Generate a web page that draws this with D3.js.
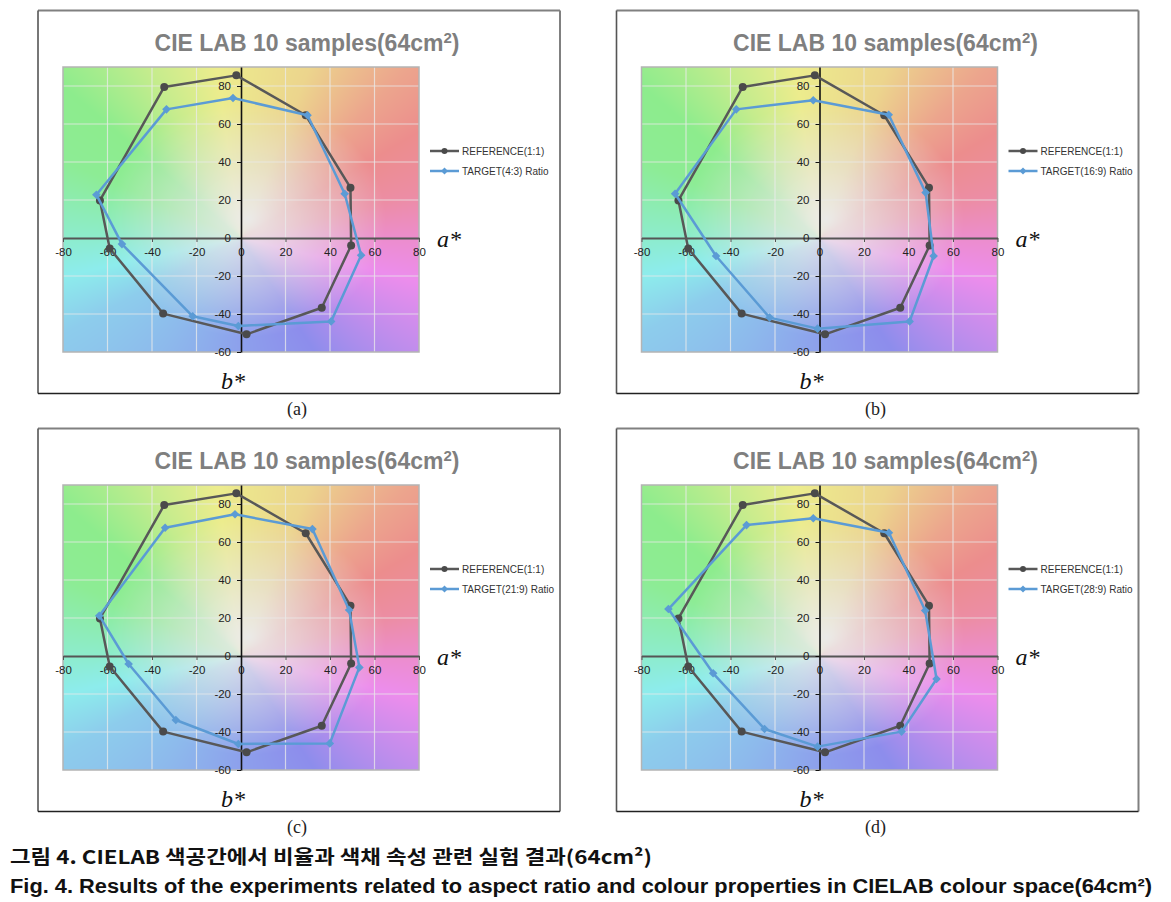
<!DOCTYPE html>
<html>
<head>
<meta charset="utf-8">
<script src="https://cdn.jsdelivr.net/npm/d3@7"></script>
<style>
  html, body { margin: 0; padding: 0; background: #fff; }
  svg { display: block; }
</style>
</head>
<body>
<svg id="chart" width="1171" height="902"></svg>
<script>
// ---------- DATA ----------
const xTicks = [-80, -60, -40, -20, 0, 20, 40, 60, 80];
const yTicks = [-60, -40, -20, 0, 20, 40, 60, 80];

const refA = [-2.1, 29.1, 49.2, 49.5, 36.3, 2.5, -35.0, -59.0, -63.4, -34.5];
const refB = [85.6, 64.6, 26.5, -3.9, -36.7, -50.7, -39.8, -5.5, 19.8, 79.5];

const t43A = [-3.6, 29.9, 46.6, 54.0, 40.5, -1.2, -21.7, -53.5, -65.0, -33.5];
const t43B = [73.7, 64.6, 23.3, -9.1, -43.9, -46.3, -41.2, -3.2, 22.8, 67.7];

const t169A = [-2.8, 31.1, 47.7, 51.3, 40.5, -0.9, -22.4, -46.5, -64.9, -37.4];
const t169B = [72.5, 64.9, 23.9, -9.5, -43.9, -47.7, -41.9, -9.5, 23.3, 67.7];

const t219A = [-2.7, 32.1, 48.6, 53.2, 39.9, -1.2, -29.3, -50.5, -63.7, -34.1];
const t219B = [74.6, 66.8, 24.2, -6.0, -46.0, -46.3, -33.7, -4.2, 21.2, 67.5];

const t289A = [-2.8, 31.2, 47.5, 52.6, 36.9, -0.9, -24.7, -47.8, -67.9, -32.8];
const t289B = [72.5, 64.9, 23.9, -12.1, -39.8, -47.7, -38.4, -9.1, 24.7, 68.9];

const refLabel = "REFERENCE(1:1)";
const targetLabels = ["TARGET(4:3) Ratio", "TARGET(16:9) Ratio", "TARGET(21:9) Ratio", "TARGET(28:9) Ratio"];
const subLabels = ["(a)", "(b)", "(c)", "(d)"];
const targetsA = [t43A, t169A, t219A, t289A];
const targetsB = [t43B, t169B, t219B, t289B];

const titleMain = "CIE LAB 10 samples(64cm";
const captionKo = "그림 4. CIELAB 색공간에서 비율과 색채 속성 관련 실험 결과(64cm²)";
const captionEn = "Fig. 4. Results of the experiments related to aspect ratio and colour properties in CIELAB colour space(64cm²)";

// ---------- LAYOUT ----------
const frameW = 522, frameH = 383;
const origins = [[38, 10.5], [616.5, 10.5], [38, 428.5], [616.5, 428.5]];
const plotDx0 = 25, plotDx1 = 381, plotDy0 = 56.5, plotDy1 = 341.5;

const svg = d3.select("#chart");

// ---------- BACKGROUND (a*b* colour plane) ----------
const bgW = plotDx1 - plotDx0, bgH = plotDy1 - plotDy0;
const bx = d3.scaleLinear([0, bgW], [-80, 80]);
const by = d3.scaleLinear([0, bgH], [90, -60]);
const hueScale = d3.scaleLinear()
  .domain([-180, -166, -148, -121, -90, -61, -35, -16, 0, 16, 35, 50, 71, 97, 115, 135, 153, 180])
  .range([-200, -180, -160, -148, -132, -120, -85, -60, -40, -15, 0, 15, 45, 60, 85, 120, 125, 160]);
const canvas = document.createElement("canvas");
canvas.width = bgW; canvas.height = bgH;
const ctx = canvas.getContext("2d");
const img = ctx.createImageData(bgW, bgH);
for (let j = 0; j < bgH; j++) {
  for (let i = 0; i < bgW; i++) {
    const a = bx(i + 0.5), b = by(j + 0.5);
    const th = Math.atan2(b, a) * 180 / Math.PI;
    const h = (hueScale(th) + 720) % 360;
    const r = Math.sqrt((a - 3) * (a - 3) + (b - 10) * (b - 10));
    const t = Math.min(1, r / 62);
    const s = 0.72 * Math.sqrt(t);
    const l = 0.915 - 0.175 * t;
    const c = d3.rgb(d3.hsl(h, s, l));
    const k = (j * bgW + i) * 4;
    img.data[k] = c.r; img.data[k + 1] = c.g; img.data[k + 2] = c.b; img.data[k + 3] = 255;
  }
}
ctx.putImageData(img, 0, 0);
const bgURL = canvas.toDataURL();

function diamondPath(cx, cy, r) {
  return `M${cx},${cy - r}L${cx + r},${cy}L${cx},${cy + r}L${cx - r},${cy}Z`;
}

const refColor = "#585858";
const tgtColor = "#5b9bd5";
const fmt = d => String(d);

origins.forEach(([fx, fy], p) => {
  const g = svg.append("g");
  const L = fx + plotDx0, R = fx + plotDx1, T = fy + plotDy0, B = fy + plotDy1;
  const x = d3.scaleLinear([-80, 80], [L, R]);
  const y = d3.scaleLinear([-60, 90], [B, T]);

  // frame
  g.append("line").attr("x1", fx).attr("x2", fx + frameW).attr("y1", fy).attr("y2", fy)
    .attr("stroke", "#808080").attr("stroke-width", 2);
  g.append("line").attr("x1", fx + frameW).attr("x2", fx + frameW).attr("y1", fy).attr("y2", fy + frameH)
    .attr("stroke", "#808080").attr("stroke-width", 2);
  g.append("line").attr("x1", fx).attr("x2", fx).attr("y1", fy).attr("y2", fy + frameH)
    .attr("stroke", "#555").attr("stroke-width", 1.6);
  g.append("line").attr("x1", fx).attr("x2", fx + frameW).attr("y1", fy + frameH).attr("y2", fy + frameH)
    .attr("stroke", "#222").attr("stroke-width", 1.4);

  // title
  const title = g.append("text")
    .attr("x", fx + 269).attr("y", fy + 40)
    .attr("text-anchor", "middle")
    .attr("font-family", "'Liberation Sans', Arial, sans-serif")
    .attr("font-weight", "bold").attr("font-size", 23)
    .attr("fill", "#7f7f7f");
  title.append("tspan").text(titleMain);
  title.append("tspan").attr("font-size", 15).attr("dy", -8).text("2");
  title.append("tspan").attr("dy", 8).text(")");

  // background
  g.append("image").attr("href", bgURL)
    .attr("x", L).attr("y", T).attr("width", R - L).attr("height", B - T)
    .attr("preserveAspectRatio", "none");

  // gridlines
  g.append("g").selectAll("line").data(xTicks.filter(v => v !== 0 && v !== -80 && v !== 80)).join("line")
    .attr("x1", d => x(d)).attr("x2", d => x(d)).attr("y1", T).attr("y2", B)
    .attr("stroke", "rgba(235,235,235,0.75)").attr("stroke-width", 1.2);
  g.append("g").selectAll("line").data(yTicks.filter(v => v !== 0 && v !== -60)).join("line")
    .attr("x1", L).attr("x2", R).attr("y1", d => y(d)).attr("y2", d => y(d))
    .attr("stroke", "rgba(235,235,235,0.75)").attr("stroke-width", 1.2);

  // plot border
  g.append("rect").attr("x", L).attr("y", T).attr("width", R - L).attr("height", B - T)
    .attr("fill", "none").attr("stroke", "#b4b4b4").attr("stroke-width", 1.5);

  // x axis at b*=0
  const xAxis = d3.axisBottom(x).tickValues(xTicks).tickFormat(fmt).tickSize(4).tickSizeOuter(0).tickPadding(6);
  const gx = g.append("g").attr("transform", `translate(0,${y(0)})`).call(xAxis);
  gx.select(".domain").attr("stroke", "#555").attr("stroke-width", 1.8);
  gx.selectAll(".tick line").attr("stroke", "#555").attr("stroke-width", 1);
  gx.selectAll(".tick text").attr("font-family", "'Liberation Sans', Arial, sans-serif")
    .attr("font-size", 11.5).attr("fill", "#222");

  // y axis at a*=0
  const yAxis = d3.axisLeft(y).tickValues(yTicks).tickFormat(fmt).tickSize(4).tickSizeOuter(0).tickPadding(6);
  const gy = g.append("g").attr("transform", `translate(${x(0)},0)`).call(yAxis);
  gy.select(".domain").attr("stroke", "#111").attr("stroke-width", 1.6);
  gy.selectAll(".tick line").attr("stroke", "#111").attr("stroke-width", 1);
  gy.selectAll(".tick text").attr("font-family", "'Liberation Sans', Arial, sans-serif")
    .attr("font-size", 11.5).attr("fill", "#222");

  // series
  const line = d3.line().x(d => x(d[0])).y(d => y(d[1])).curve(d3.curveLinearClosed);
  const refPts = refA.map((a, i) => [a, refB[i]]);
  const tA = targetsA[p], tB = targetsB[p];
  const tgtPts = tA.map((a, i) => [a, tB[i]]);

  g.append("path").attr("d", line(refPts)).attr("fill", "none")
    .attr("stroke", refColor).attr("stroke-width", 2.5).attr("stroke-linejoin", "round");
  g.append("g").selectAll("circle").data(refPts).join("circle")
    .attr("cx", d => x(d[0])).attr("cy", d => y(d[1])).attr("r", 4).attr("fill", "#4a4a4a");

  g.append("path").attr("d", line(tgtPts)).attr("fill", "none")
    .attr("stroke", tgtColor).attr("stroke-width", 2.5).attr("stroke-linejoin", "round");
  g.append("g").selectAll("path").data(tgtPts).join("path")
    .attr("d", d => diamondPath(x(d[0]), y(d[1]), 4.3)).attr("fill", tgtColor);

  // legend
  const lx0 = fx + 392, lx1 = fx + 421, ly0 = fy + 140.5, ly1 = fy + 160.5;
  g.append("line").attr("x1", lx0).attr("x2", lx1).attr("y1", ly0).attr("y2", ly0)
    .attr("stroke", refColor).attr("stroke-width", 2.5);
  g.append("circle").attr("cx", (lx0 + lx1) / 2).attr("cy", ly0).attr("r", 3).attr("fill", "#4a4a4a");
  g.append("line").attr("x1", lx0).attr("x2", lx1).attr("y1", ly1).attr("y2", ly1)
    .attr("stroke", tgtColor).attr("stroke-width", 2.5);
  g.append("path").attr("d", diamondPath((lx0 + lx1) / 2, ly1, 3.5)).attr("fill", tgtColor);
  g.append("text").attr("x", lx1 + 3).attr("y", ly0 + 3.6)
    .attr("font-family", "'Liberation Sans', Arial, sans-serif").attr("font-size", 10)
    .attr("fill", "#333").text(refLabel);
  g.append("text").attr("x", lx1 + 3).attr("y", ly1 + 3.6)
    .attr("font-family", "'Liberation Sans', Arial, sans-serif").attr("font-size", 10)
    .attr("fill", "#333").text(targetLabels[p]);

  // axis names
  g.append("text").attr("x", fx + 399).attr("y", fy + 236.5)
    .attr("font-family", "'Liberation Serif', 'Times New Roman', serif")
    .attr("font-style", "italic").attr("font-size", 24).attr("fill", "#111").text("a*");
  g.append("text").attr("x", fx + 183).attr("y", fy + 378.5)
    .attr("font-family", "'Liberation Serif', 'Times New Roman', serif")
    .attr("font-style", "italic").attr("font-size", 24).attr("fill", "#111").text("b*");

  // sub label
  svg.append("text").attr("x", fx + 259).attr("y", fy + frameH + 21)
    .attr("text-anchor", "middle")
    .attr("font-family", "'Liberation Serif', 'Times New Roman', serif")
    .attr("font-size", 18).attr("fill", "#222").text(subLabels[p]);
});

// captions
svg.append("text").attr("x", 10).attr("y", 864)
  .attr("font-family", "'Noto Sans CJK KR', sans-serif").attr("font-weight", "bold")
  .attr("font-size", 19).attr("fill", "#111")
  .attr("textLength", 642).attr("lengthAdjust", "spacingAndGlyphs")
  .text(captionKo);
svg.append("text").attr("x", 10).attr("y", 893)
  .attr("font-family", "'Liberation Sans Narrow', 'Liberation Sans', Arial, sans-serif").attr("font-weight", "bold")
  .attr("font-size", 20).attr("fill", "#111")
  .attr("textLength", 1142).attr("lengthAdjust", "spacingAndGlyphs")
  .text(captionEn);
</script>
</body>
</html>
